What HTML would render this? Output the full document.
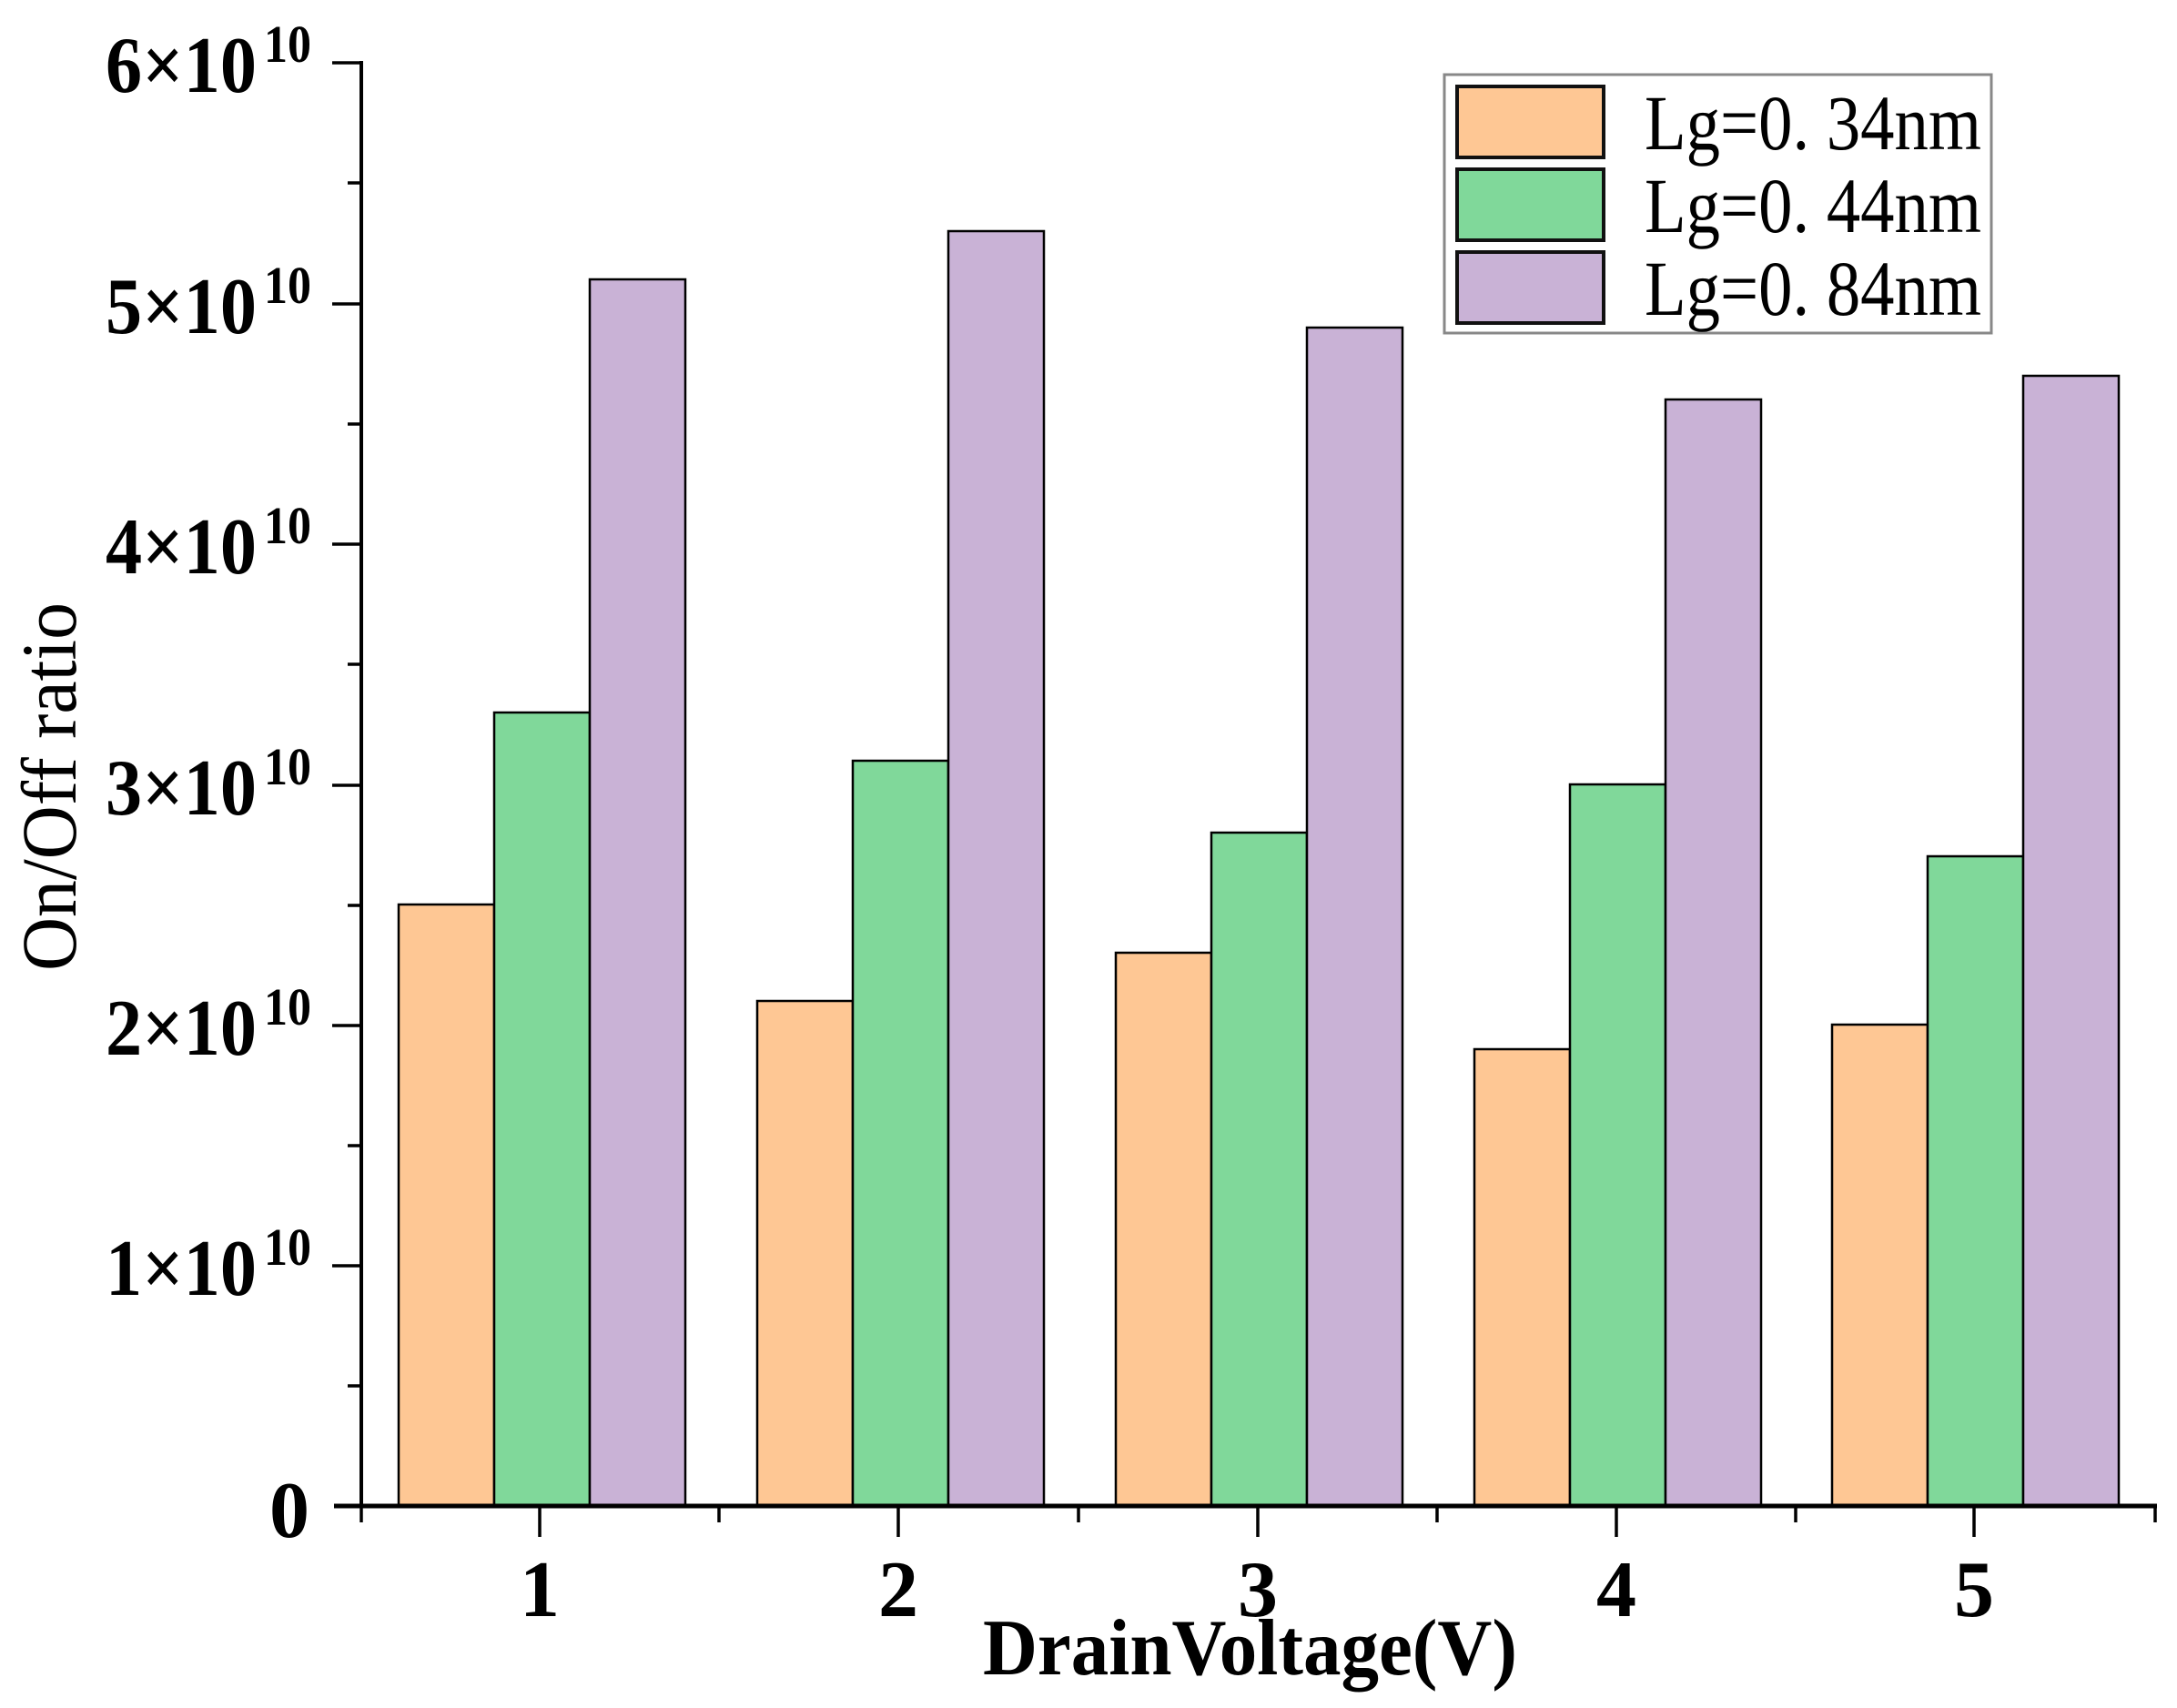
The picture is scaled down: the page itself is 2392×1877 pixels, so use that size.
<!DOCTYPE html>
<html><head><meta charset="utf-8"><style>html,body{margin:0;padding:0;background:#fff;}svg{display:block;}</style></head>
<body>
<svg width="2392" height="1877" viewBox="0 0 2392 1877" xmlns="http://www.w3.org/2000/svg">
<g stroke="#000" stroke-width="2.5">
<rect x="438" y="994" width="105" height="661" fill="#FEC794"/>
<rect x="543" y="783" width="105" height="872" fill="#80D89A"/>
<rect x="648" y="307" width="105" height="1348" fill="#C9B2D6"/>
<rect x="832" y="1100" width="105" height="555" fill="#FEC794"/>
<rect x="937" y="836" width="105" height="819" fill="#80D89A"/>
<rect x="1042" y="254" width="105" height="1401" fill="#C9B2D6"/>
<rect x="1226" y="1047" width="105" height="608" fill="#FEC794"/>
<rect x="1331" y="915" width="105" height="740" fill="#80D89A"/>
<rect x="1436" y="360" width="105" height="1295" fill="#C9B2D6"/>
<rect x="1620" y="1153" width="105" height="502" fill="#FEC794"/>
<rect x="1725" y="862" width="105" height="793" fill="#80D89A"/>
<rect x="1830" y="439" width="105" height="1216" fill="#C9B2D6"/>
<rect x="2013" y="1126" width="105" height="529" fill="#FEC794"/>
<rect x="2118" y="941" width="105" height="714" fill="#80D89A"/>
<rect x="2223" y="413" width="105" height="1242" fill="#C9B2D6"/>
</g>
<g stroke="#000" fill="none">
<line x1="397" y1="67" x2="397" y2="1657" stroke-width="4"/>
<line x1="367" y1="1655" x2="2370" y2="1655" stroke-width="5"/>
<g stroke-width="3.5">
<line x1="365" y1="69" x2="397" y2="69"/>
<line x1="365" y1="334" x2="397" y2="334"/>
<line x1="365" y1="598" x2="397" y2="598"/>
<line x1="365" y1="863" x2="397" y2="863"/>
<line x1="365" y1="1127" x2="397" y2="1127"/>
<line x1="365" y1="1391" x2="397" y2="1391"/>
<line x1="382" y1="201" x2="397" y2="201"/>
<line x1="382" y1="466" x2="397" y2="466"/>
<line x1="382" y1="730" x2="397" y2="730"/>
<line x1="382" y1="995" x2="397" y2="995"/>
<line x1="382" y1="1259" x2="397" y2="1259"/>
<line x1="382" y1="1523" x2="397" y2="1523"/>
<line x1="593" y1="1655" x2="593" y2="1689"/>
<line x1="987" y1="1655" x2="987" y2="1689"/>
<line x1="1382" y1="1655" x2="1382" y2="1689"/>
<line x1="1776" y1="1655" x2="1776" y2="1689"/>
<line x1="2169" y1="1655" x2="2169" y2="1689"/>
<line x1="397" y1="1655" x2="397" y2="1673"/>
<line x1="790" y1="1655" x2="790" y2="1673"/>
<line x1="1185" y1="1655" x2="1185" y2="1673"/>
<line x1="1579" y1="1655" x2="1579" y2="1673"/>
<line x1="1973" y1="1655" x2="1973" y2="1673"/>
<line x1="2368" y1="1655" x2="2368" y2="1673"/>
</g>
</g>
<g font-family="Liberation Serif, serif" font-weight="bold" fill="#000">
<g font-size="88">
<text x="116" y="895" textLength="166" lengthAdjust="spacingAndGlyphs" transform="translate(0,-794)">6×10</text>
<text x="116" y="895" textLength="166" lengthAdjust="spacingAndGlyphs" transform="translate(0,-529)">5×10</text>
<text x="116" y="895" textLength="166" lengthAdjust="spacingAndGlyphs" transform="translate(0,-265)">4×10</text>
<text x="116" y="895" textLength="166" lengthAdjust="spacingAndGlyphs">3×10</text>
<text x="116" y="895" textLength="166" lengthAdjust="spacingAndGlyphs" transform="translate(0,264)">2×10</text>
<text x="116" y="895" textLength="166" lengthAdjust="spacingAndGlyphs" transform="translate(0,528)">1×10</text>
<text x="340" y="1689" text-anchor="end">0</text>
</g>
<g font-size="58">
<text x="290" y="68" textLength="52" lengthAdjust="spacingAndGlyphs">10</text>
<text x="290" y="333" textLength="52" lengthAdjust="spacingAndGlyphs">10</text>
<text x="290" y="597" textLength="52" lengthAdjust="spacingAndGlyphs">10</text>
<text x="290" y="862" textLength="52" lengthAdjust="spacingAndGlyphs">10</text>
<text x="290" y="1126" textLength="52" lengthAdjust="spacingAndGlyphs">10</text>
<text x="290" y="1390" textLength="52" lengthAdjust="spacingAndGlyphs">10</text>
</g>
<g font-size="88" text-anchor="middle">
<text x="593" y="1776">1</text>
<text x="987" y="1776">2</text>
<text x="1382" y="1776">3</text>
<text x="1776" y="1776">4</text>
<text x="2169" y="1776">5</text>
</g>
<text x="1080" y="1840" font-size="88" textLength="587" lengthAdjust="spacingAndGlyphs">DrainVoltage(V)</text>
</g>
<text transform="translate(83,1067) rotate(-90)" font-family="Liberation Serif, serif" font-size="86" textLength="405" lengthAdjust="spacingAndGlyphs">On/Off ratio</text>
<rect x="1587" y="82" width="601" height="284" fill="#fff" stroke="#888" stroke-width="3"/>
<g stroke="#111" stroke-width="4">
<rect x="1601" y="95" width="161" height="78" fill="#FEC794"/>
<rect x="1601" y="186" width="161" height="78" fill="#80D89A"/>
<rect x="1601" y="277" width="161" height="78" fill="#C9B2D6"/>
</g>
<g font-family="Liberation Serif, serif" font-size="86" fill="#000">
<text x="1807" y="164" textLength="370" lengthAdjust="spacingAndGlyphs">Lg=0. 34nm</text>
<text x="1807" y="255" textLength="370" lengthAdjust="spacingAndGlyphs">Lg=0. 44nm</text>
<text x="1807" y="346" textLength="370" lengthAdjust="spacingAndGlyphs">Lg=0. 84nm</text>
</g>
</svg>
</body></html>
